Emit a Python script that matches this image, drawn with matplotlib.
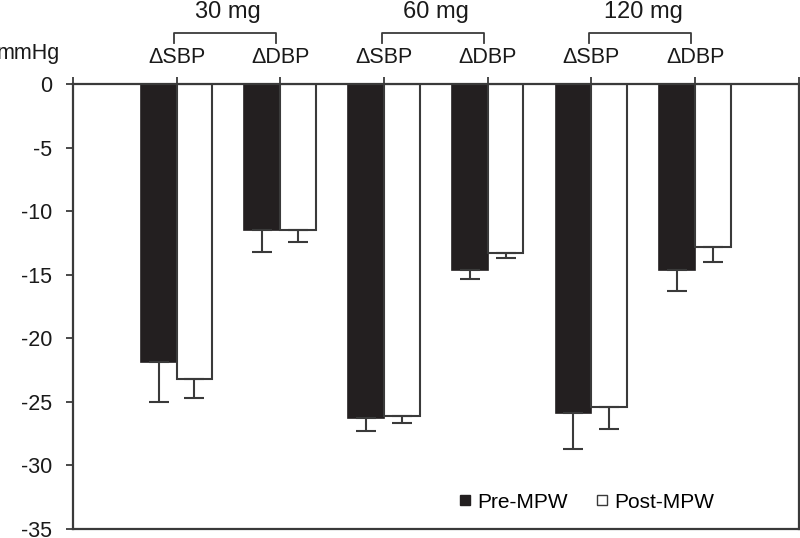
import matplotlib.pyplot as plt
import numpy as np
from matplotlib.lines import Line2D

plt.rcParams['font.family'] = ['Liberation Sans', 'DejaVu Sans']
plt.rcParams['axes.unicode_minus'] = False

# data (mmHg change)
categories = ['ΔSBP', 'ΔDBP', 'ΔSBP', 'ΔDBP', 'ΔSBP', 'ΔDBP']
doses = ['30 mg', '60 mg', '120 mg']
pre = [-21.9, -11.5, -26.3, -14.6, -25.9, -14.6]
post = [-23.2, -11.5, -26.1, -13.3, -25.4, -12.8]
pre_err = [3.1, 1.7, 1.0, 0.7, 2.8, 1.7]
post_err = [1.5, 0.9, 0.6, 0.4, 1.7, 1.2]

dark = '#231f20'
line_col = '#3a3a3a'
txt_col = '#1a1a1a'
fs = 15.5

fig = plt.figure(figsize=(8, 5.38), dpi=100)
ax = fig.add_axes([0.091, 0.0167, 0.9075, 0.8271])

x = np.arange(1, len(categories) + 1)
w = 0.345

ax.bar(x, pre, width=-w, align='edge', color=dark, edgecolor=dark, linewidth=1.2, zorder=2)
ax.bar(x, post, width=w, align='edge', color='white', edgecolor=line_col, linewidth=1.5, zorder=2)

zeros = np.zeros(len(x))
ax.errorbar(x - w / 2, pre, yerr=[pre_err, zeros], fmt='none', ecolor=line_col,
            elinewidth=1.5, capsize=7, capthick=1.5, zorder=3)
ax.errorbar(x + w / 2, post, yerr=[post_err, zeros], fmt='none', ecolor=line_col,
            elinewidth=1.5, capsize=7, capthick=1.5, zorder=3)

ax.set_xlim(0, 7)
ax.set_ylim(-35, 0)
ax.set_yticks(np.arange(0, -36, -5))
ax.set_yticklabels([str(v) for v in np.arange(0, -36, -5)], fontsize=fs, color=txt_col)
ax.tick_params(axis='y', direction='out', length=5, width=1.3, color=line_col, pad=10)

ax.xaxis.tick_top()
ax.set_xticks(np.arange(0, 8))
ax.set_xticklabels([''] * 8)
ax.tick_params(axis='x', direction='out', length=5, width=1.3, color=line_col)

for s in ax.spines.values():
    s.set_linewidth(1.6)
    s.set_color(line_col)

trans = ax.get_xaxis_transform()
for xi, lab in zip(x, categories):
    ax.text(xi, 1.06, lab, transform=trans, ha='center', va='center', fontsize=fs, color=txt_col)

for i, d in enumerate(doses):
    c = x[2 * i]
    ax.plot([c - 0.02, c - 0.02, c + 0.96, c + 0.96], [1.092, 1.1146, 1.1146, 1.092],
            transform=trans, color=line_col, lw=1.3, clip_on=False)
    ax.text(c + 0.5, 1.162, d, transform=trans, ha='center', va='center', fontsize=17, color=txt_col)

fig.text(60 / 800, 1 - 54 / 538, 'mmHg', ha='right', va='center', fontsize=fs, color=txt_col)

handles = [Line2D([], [], marker='s', linestyle='none', markersize=6.5, markerfacecolor=dark,
                  markeredgecolor=dark),
           Line2D([], [], marker='s', linestyle='none', markersize=6.5, markerfacecolor='white',
                  markeredgecolor=line_col, markeredgewidth=1)]
ax.legend(handles, ['Pre-MPW', 'Post-MPW'], loc='center', bbox_to_anchor=(0.733, 0.0669),
          bbox_transform=fig.transFigure, ncol=2, frameon=False, fontsize=15,
          handlelength=0.6, handletextpad=0.3, columnspacing=1.3)

fig.savefig('out.png', dpi=100)
